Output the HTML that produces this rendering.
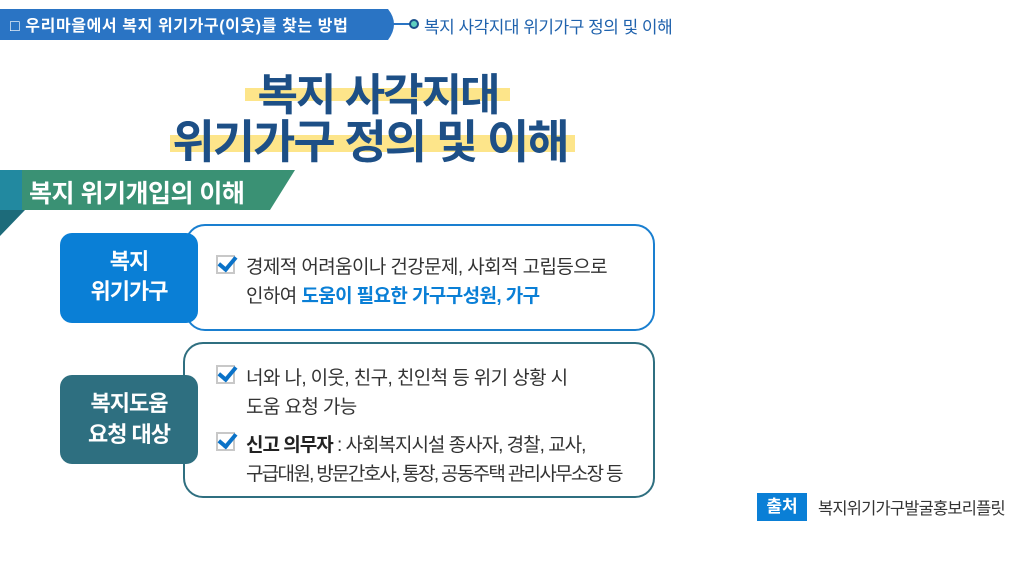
<!DOCTYPE html>
<html><head><meta charset="utf-8"><style>
*{margin:0;padding:0;box-sizing:border-box}
body{width:1024px;height:576px;background:#fff;position:relative;overflow:hidden;font-family:"Liberation Sans","Noto Sans CJK KR",sans-serif}
.a{position:absolute;white-space:nowrap}
.t{font-size:19px;color:#333;letter-spacing:-0.6px}
.ck{position:absolute;width:19px;height:19px;border:2px solid #c8c8c8;background:#fff}
.ck:after{content:"";position:absolute;left:4px;top:-4px;width:7px;height:14px;border:solid #0a72c8;border-width:0 4px 4px 0;transform:rotate(40deg)}
</style></head><body>
<svg class="a" style="left:0;top:0" width="1024" height="240">
<path d="M0 9 H388 Q400 24 388 40 H0Z" fill="#2a74c4"/>
<line x1="392" y1="24" x2="412" y2="24" stroke="#2a74c4" stroke-width="2"/>
<circle cx="414" cy="24" r="4" fill="#5fd0c0" stroke="#1a4f8a" stroke-width="2"/>
<rect x="245" y="88" width="265" height="13" fill="#fde58a"/>
<rect x="170" y="135" width="405" height="17" fill="#fde58a"/>
<path d="M0 170 H295 L270 210 H0Z" fill="#3a9174"/>
<path d="M0 170 H22 V210 H0Z" fill="#2289a0"/>
<path d="M0 210 H25 L0 236Z" fill="#1d6b7a"/>
</svg>
<div class="a" style="left:10px;top:12px;font-size:16px;font-weight:bold;color:#fff;letter-spacing:0.6px">□ 우리마을에서 복지 위기가구(이웃)를 찾는 방법</div>
<div class="a" style="left:424px;top:13px;font-size:17px;color:#1f62ad;letter-spacing:-0.5px">복지 사각지대 위기가구 정의 및 이해</div>
<div class="a" style="left:0;width:756px;text-align:center;top:59px;font-size:44px;font-weight:bold;color:#1d4f86;letter-spacing:-2px">복지 사각지대</div>
<div class="a" style="left:0;width:740px;text-align:center;top:106px;font-size:46px;font-weight:bold;color:#1d4f86;letter-spacing:-2px">위기가구 정의 및 이해</div>
<div class="a" style="left:29px;top:174px;font-size:25px;font-weight:bold;color:#fff;letter-spacing:-0.5px">복지 위기개입의 이해</div>

<div class="a" style="left:185px;top:224px;width:470px;height:107px;border:2px solid #1a7fd0;border-radius:20px"></div>
<div class="a" style="left:60px;top:233px;width:138px;height:90px;background:#0a7fd6;border-radius:12px;color:#fff;font-weight:bold;font-size:22px;text-align:center;line-height:30px;padding-top:14px;letter-spacing:-1px">복지<br>위기가구</div>
<div class="ck" style="left:216px;top:255px"></div>
<div class="a t" style="left:246px;top:252px">경제적 어려움이나 건강문제, 사회적 고립등으로</div>
<div class="a t" style="left:246px;top:281px">인하여 <b style="color:#0a7fd6">도움이 필요한 가구구성원, 가구</b></div>

<div class="a" style="left:183px;top:342px;width:472px;height:156px;border:2px solid #2f6f80;border-radius:20px"></div>
<div class="a" style="left:60px;top:375px;width:138px;height:89px;background:#2e6f80;border-radius:12px;color:#fff;font-weight:bold;font-size:22px;text-align:center;line-height:31px;padding-top:13px;letter-spacing:-1px">복지도움<br>요청 대상</div>
<div class="ck" style="left:216px;top:365px"></div>
<div class="a t" style="left:246px;top:363px">너와 나, 이웃, 친구, 친인척 등 위기 상황 시</div>
<div class="a t" style="left:246px;top:392px">도움 요청 가능</div>
<div class="ck" style="left:216px;top:432px"></div>
<div class="a t" style="left:246px;top:430px;letter-spacing:-1px"><b style="color:#222">신고 의무자</b> : 사회복지시설 종사자, 경찰, 교사,</div>
<div class="a t" style="left:246px;top:459px;letter-spacing:-1.7px">구급대원, 방문간호사, 통장, 공동주택 관리사무소장 등</div>

<div class="a" style="left:757px;top:493px;width:50px;height:28px;background:#0a7fd6;color:#fff;font-weight:bold;font-size:17px;text-align:center;line-height:28px">출처</div>
<div class="a" style="left:818px;top:495px;font-size:16.5px;color:#333;letter-spacing:-0.8px">복지위기가구발굴홍보리플릿</div>
</body></html>
